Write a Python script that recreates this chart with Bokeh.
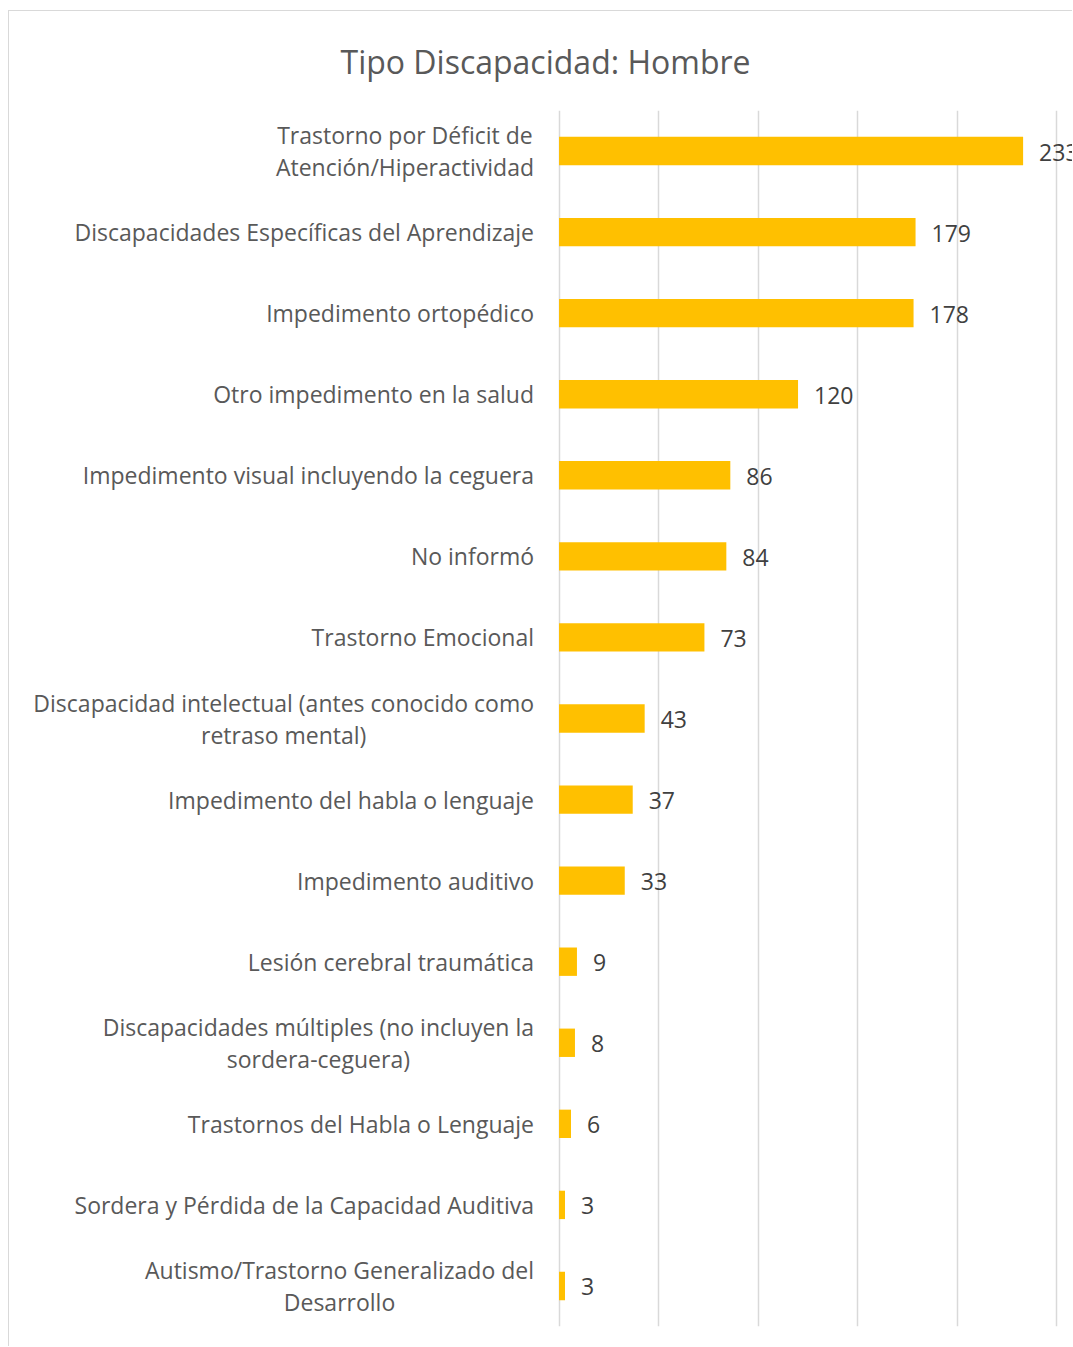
from bokeh.plotting import figure
from bokeh.models import Range1d, FactorRange, ColumnDataSource, FixedTicker, Title
from bokeh.core.properties import value
from bokeh.embed import file_html
from bokeh.resources import INLINE

categories = [
    "Trastorno por Déficit de\nAtención/Hiperactividad",
    "Discapacidades Específicas del Aprendizaje",
    "Impedimento ortopédico",
    "Otro impedimento en la salud",
    "Impedimento visual incluyendo la ceguera",
    "No informó",
    "Trastorno Emocional",
    "Discapacidad intelectual (antes conocido como\nretraso mental)",
    "Impedimento del habla o lenguaje",
    "Impedimento auditivo",
    "Lesión cerebral traumática",
    "Discapacidades múltiples (no incluyen la\nsordera-ceguera)",
    "Trastornos del Habla o Lenguaje",
    "Sordera y Pérdida de la Capacidad Auditiva",
    "Autismo/Trastorno Generalizado del\nDesarrollo",
]
values = [233, 179, 178, 120, 86, 84, 73, 43, 37, 33, 9, 8, 6, 3, 3]
grid_ticks = [0, 50, 100, 150, 200, 250]
title_text = "Tipo Discapacidad: Hombre"

FONT = "Open Sans"

source = ColumnDataSource(dict(cat=categories, val=values, zero=[0] * len(values),
                               lbl=[str(v) for v in values]))

p = figure(
    width=1064, height=1336,
    y_range=FactorRange(factors=list(reversed(categories))),
    x_range=Range1d(-275.9, 258.3),
    output_backend="svg", toolbar_location=None,
    min_border_left=0, min_border_right=0, min_border_top=99, min_border_bottom=21,
)
p.styles = {"margin-left": "8px", "margin-top": "10px",
            "border-left": "1px solid #d9d9d9", "border-top": "1px solid #d9d9d9"}

p.hbar(y="cat", right="val", left=0, height=0.35, source=source,
       fill_color="#FFC000", line_color=None)

# value labels
p.text(x="val", y="cat", text="lbl", source=source, x_offset=16, y_offset=1,
       text_baseline="middle", text_align="left", text_color="#404040",
       text_font=value(FONT), text_font_size="23px")

# category labels (block right-aligned, lines centred)
p.text(x="zero", y="cat", text="cat", source=source, x_offset=-25,
       anchor="center_right", text_align="center", text_baseline="middle",
       text_color="#595959", text_font=value(FONT), text_font_size="23px",
       text_line_height=1.0)

t = Title(text=title_text, align="left", vertical_align="top", text_font=FONT,
          text_font_size="32px", text_font_style="normal", text_color="#595959",
          offset=331, standoff=52)
p.add_layout(t, "above")

p.outline_line_color = None
p.xaxis.visible = False
p.yaxis.visible = False
p.xgrid.ticker = FixedTicker(ticks=grid_ticks)
p.xgrid.grid_line_color = "#d9d9d9"
p.xgrid.grid_line_width = 1.5
p.ygrid.grid_line_color = None

open("out.html", "w").write(file_html(p, INLINE))
